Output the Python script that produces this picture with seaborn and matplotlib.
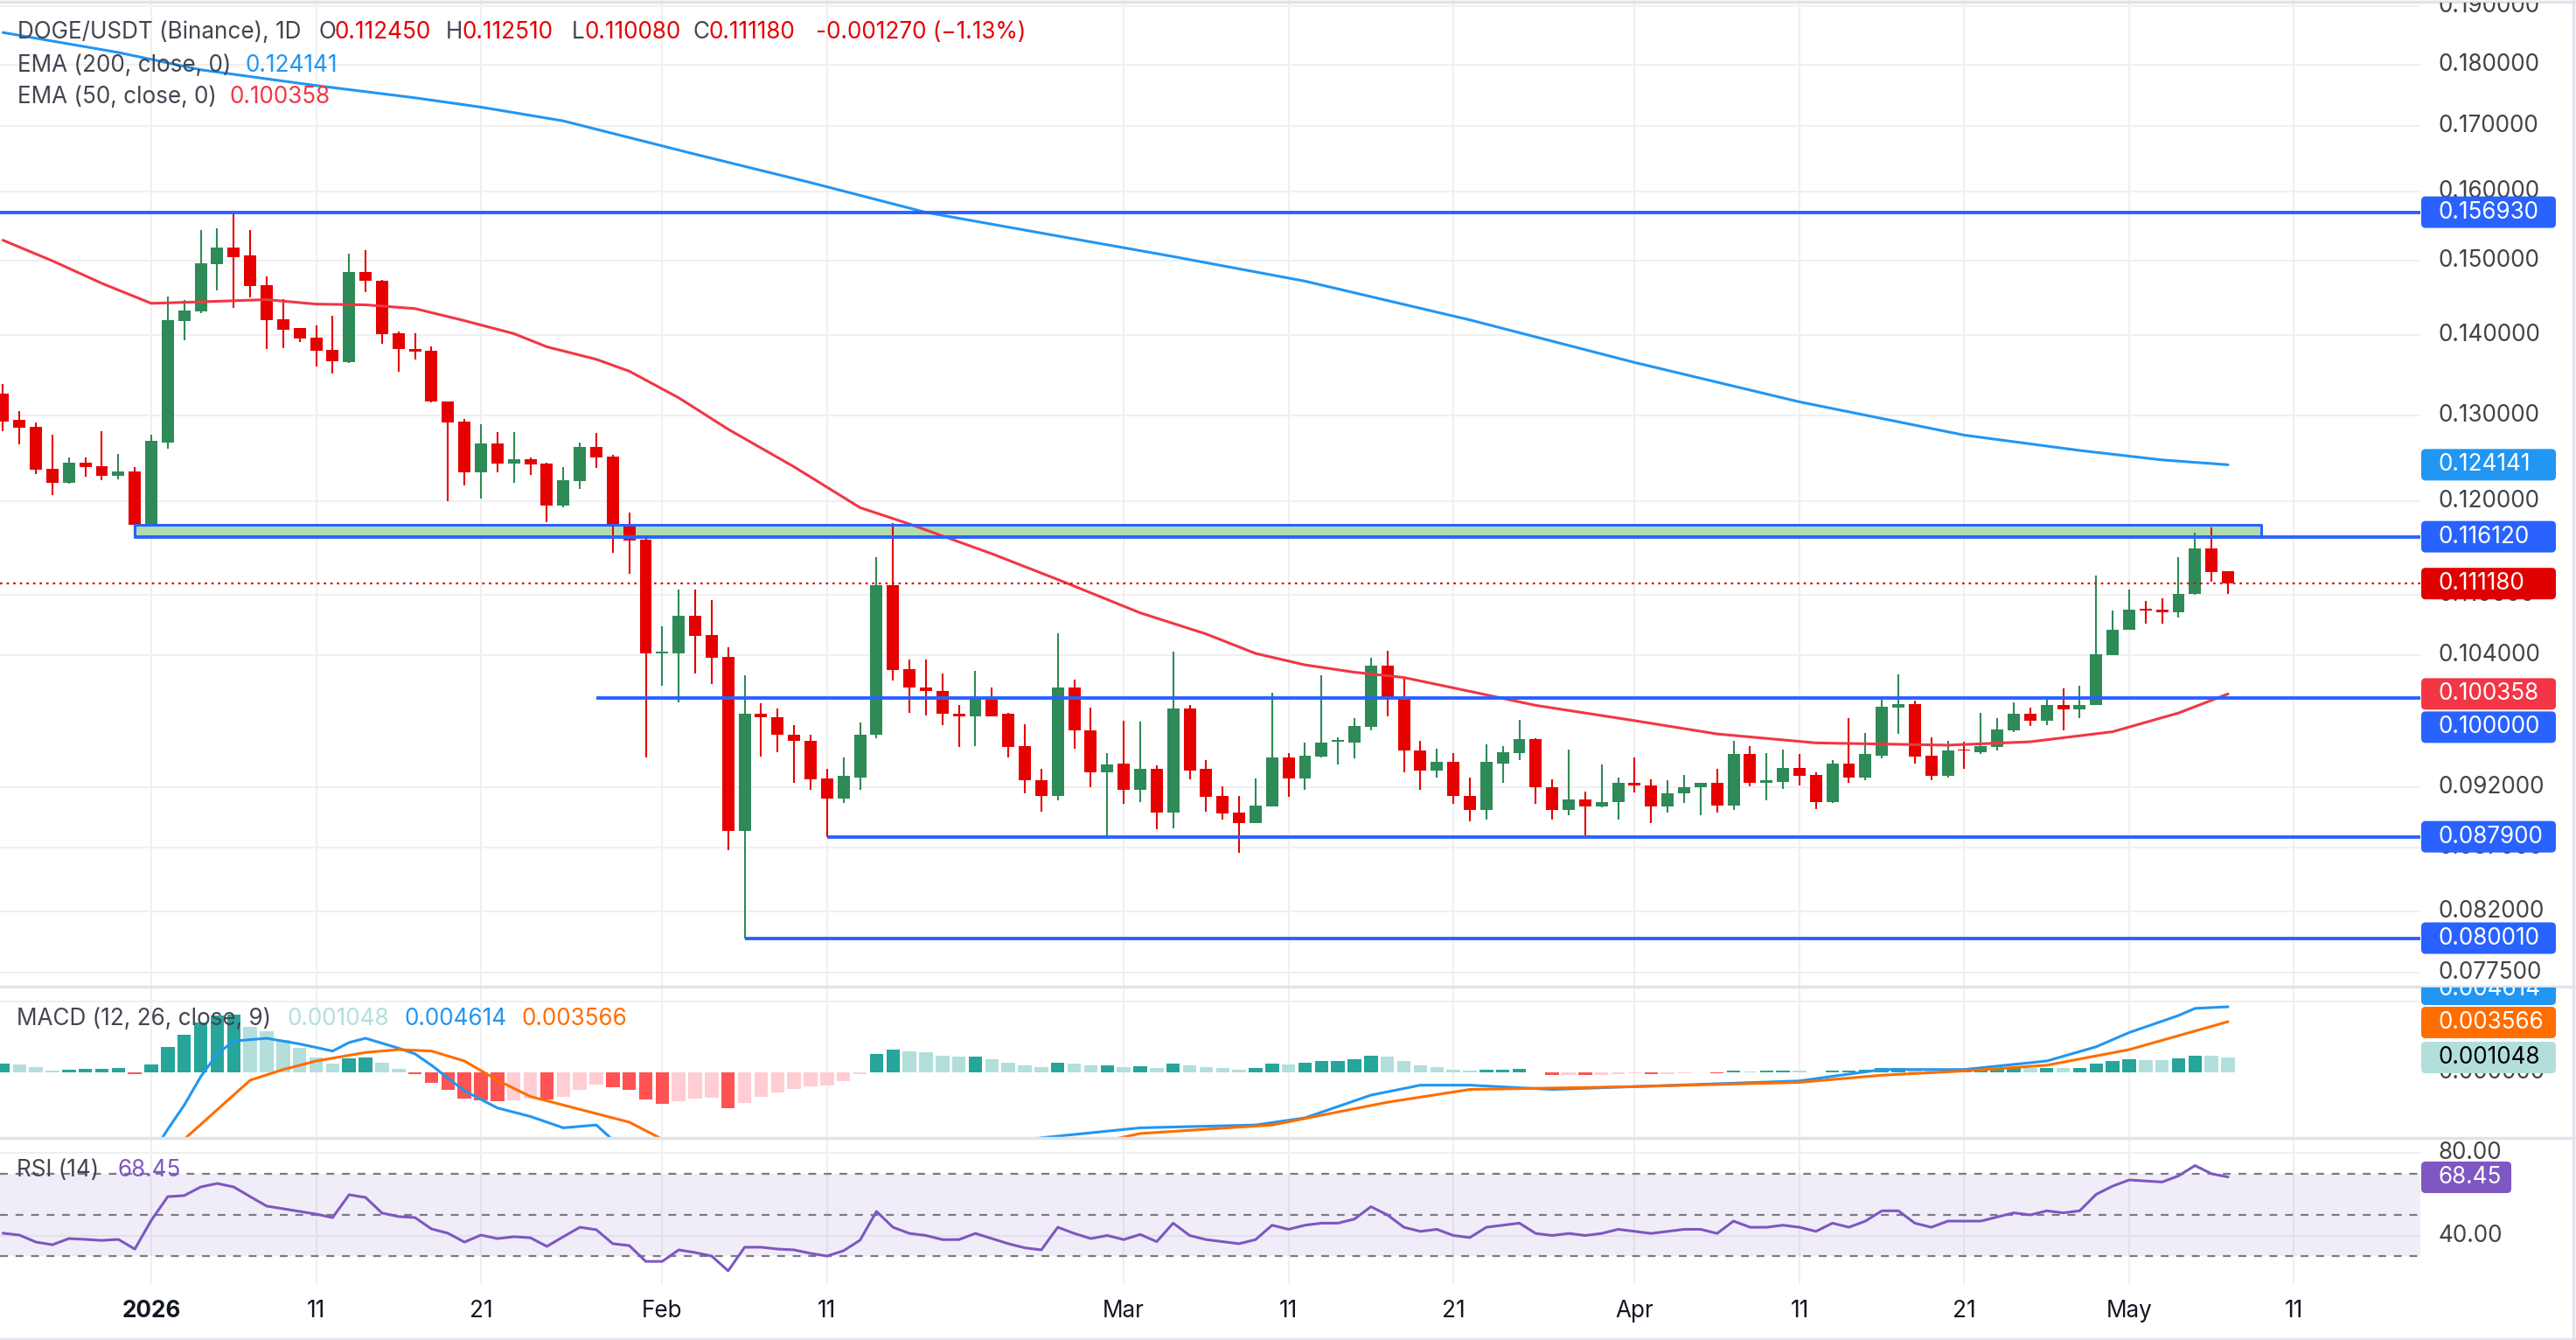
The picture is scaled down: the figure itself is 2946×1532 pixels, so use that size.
import numpy as np
import pandas as pd
import matplotlib
matplotlib.use("Agg")
import matplotlib.pyplot as plt
import seaborn as sns
from matplotlib.patches import FancyBboxPatch
from matplotlib.transforms import IdentityTransform, Bbox
from matplotlib.ticker import NullLocator

# ---------------- data ----------------
first_date = "2025-12-23"
open_ = [.1326, .1294, .1286, .1237, .1221, .1244, .1240, .1229, .1234,
         .1174, .1267, .1419, .1431, .1496, .1519, .1507, .1466, .1421, .1409, .1397,
         .1381, .1366, .1484, .1473, .1402, .1382, .1380, .1317, .1292, .1233,
         .1266, .1243, .1248, .1243, .1195, .1223, .1262, .1251, .1173, .1158,
         .1042, .1042, .1079, .1060, .1039, .0884, .0985, .0982, .0966, .0961,
         .0928, .0911, .0929, .0966, .1110, .1027, .1010, .1006, .0985, .0983,
         .1001, .0985, .0956, .0926, .0913, .1010, .0970, .0933, .0941, .0918,
         .0936, .0899, .0990, .0936, .0913, .0899, .0890, .0904, .0946, .0928,
         .0947, .0960, .0959, .0973, .1030, .1001, .0952, .0935, .0942, .0913,
         .0901, .0941, .0950, .0962, .0920, .0901, .0910, .0904, .0908, .0924,
         .0922, .0904, .0915, .0920, .0924, .0905, .0949, .0924, .0925, .0937,
         .0931, .0908, .0941, .0929, .0948, .0991, .0994, .0948, .0930, .0953,
         .0951, .0955, .0970, .0985, .0979, .0993, .0989, .0993, .1040, .1065,
         .1086, .1085, .1083, .1101, .1149, .11245]
high = [.1338, .1305, .1291, .1276, .1250, .1250, .1281, .1254, .1239,
        .1276, .1451, .1447, .1544, .1546, .1569, .1543, .1479, .1448, .1409, .1413,
        .1425, .1510, .1515, .1474, .1405, .1402, .1385, .1317, .1295, .1289,
        .1280, .1280, .1250, .1244, .1239, .1267, .1279, .1253, .1188, .1160,
        .1069, .1106, .1106, .1095, .1048, .1021, .0995, .0990, .0975, .0966,
        .0936, .0946, .0977, .1139, .1176, .1036, .1036, .1023, .0993, .1025,
        .1010, .0986, .0976, .0936, .1062, .1017, .0991, .0950, .0979, .0978,
        .0939, .1044, .0993, .0944, .0921, .0913, .0928, .1005, .0950, .0959,
        .1021, .0964, .0981, .1038, .1045, .1019, .0961, .0954, .0950, .0929,
        .0958, .0956, .0980, .0963, .0927, .0953, .0917, .0940, .0929, .0946,
        .0927, .0926, .0931, .0924, .0936, .0961, .0956, .0950, .0953, .0949,
        .0933, .0944, .0981, .0968, .0998, .1022, .0997, .0964, .0961, .0960,
        .0986, .0981, .0996, .0991, .0999, .1009, .1011, .1120, .1084, .1106,
        .1094, .1097, .1139, .1166, .1171, .11251]
low = [.1281, .1265, .1231, .1207, .1220, .1228, .1224, .1225, .1162,
       .1174, .1260, .1394, .1429, .1460, .1436, .1450, .1382, .1383, .1391, .1360,
       .1351, .1364, .1457, .1389, .1353, .1369, .1315, .1200, .1218, .1203,
       .1233, .1221, .1230, .1177, .1193, .1214, .1238, .1144, .1122, .0946,
       .1011, .0996, .1023, .1013, .0868, .0800, .0947, .0951, .0924, .0918,
       .0879, .0907, .0918, .0963, .1016, .0986, .0984, .0975, .0955, .0956,
       .0983, .0946, .0915, .0900, .0909, .0954, .0920, .0877, .0906, .0908,
       .0885, .0886, .0927, .0900, .0893, .0866, .0890, .0904, .0912, .0918,
       .0946, .0940, .0945, .0970, .0983, .0933, .0918, .0929, .0906, .0892,
       .0893, .0924, .0944, .0906, .0893, .0897, .0880, .0903, .0893, .0916,
       .0890, .0899, .0907, .0897, .0899, .0901, .0921, .0909, .0919, .0922,
       .0902, .0907, .0924, .0926, .0945, .0967, .0941, .0926, .0929, .0936,
       .0949, .0952, .0969, .0974, .0975, .0970, .0981, .0993, .1040, .1065,
       .1071, .1071, .1077, .1100, .1114, .11008]
close = [.1292, .1285, .1236, .1221, .1244, .1239, .1229, .1234, .1174,
         .1269, .1420, .1433, .1497, .1519, .1505, .1465, .1420, .1407, .1396, .1380,
         .1367, .1484, .1472, .1401, .1382, .1379, .1317, .1291, .1233, .1266,
         .1243, .1248, .1242, .1195, .1224, .1262, .1250, .1172, .1157, .1042,
         .1044, .1079, .1059, .1038, .0884, .0985, .0982, .0966, .0961, .0927,
         .0911, .0930, .0966, .1110, .1026, .1010, .1006, .0985, .0983, .1001,
         .0983, .0955, .0926, .0913, .1010, .0970, .0933, .0940, .0918, .0936,
         .0899, .0990, .0935, .0912, .0898, .0890, .0905, .0946, .0928, .0948,
         .0959, .0961, .0974, .1030, .1001, .0952, .0935, .0942, .0913, .0901,
         .0942, .0951, .0962, .0920, .0901, .0910, .0904, .0908, .0924, .0922,
         .0904, .0915, .0920, .0924, .0905, .0949, .0924, .0926, .0937, .0930,
         .0908, .0941, .0929, .0949, .0992, .0994, .0947, .0930, .0952, .0952,
         .0956, .0971, .0985, .0979, .0993, .0989, .0993, .1041, .1065, .1085,
         .1084, .1083, .1101, .1149, .1124, .11118]

ema200_dates = ["2025-12-23", "2025-12-30", "2026-01-04", "2026-01-08", "2026-01-11", "2026-01-14",
                "2026-01-17", "2026-01-21", "2026-01-26", "2026-02-03", "2026-02-10", "2026-02-17",
                "2026-02-25", "2026-03-04", "2026-03-12", "2026-03-22", "2026-04-01", "2026-04-11",
                "2026-04-21", "2026-04-28", "2026-05-03", "2026-05-07"]
ema200_vals = [.1854, .1820, .1791, .1776, .1765, .1755, .1745, .1730, .1708, .1656, .1613, .1569,
               .1535, .1506, .1472, .1420, .1365, .1316, .1276, .1258, .1247, .124141]

ema50_dates = ["2025-12-23", "2025-12-26", "2025-12-29", "2026-01-01", "2026-01-04", "2026-01-08",
               "2026-01-11", "2026-01-14", "2026-01-17", "2026-01-20", "2026-01-23", "2026-01-25",
               "2026-01-28", "2026-01-30", "2026-02-02", "2026-02-05", "2026-02-09", "2026-02-13",
               "2026-02-16", "2026-02-21", "2026-02-25", "2026-03-02", "2026-03-06", "2026-03-09",
               "2026-03-12", "2026-03-15", "2026-03-18", "2026-03-22", "2026-03-26", "2026-04-01",
               "2026-04-06", "2026-04-12", "2026-04-16", "2026-04-20", "2026-04-25", "2026-04-30",
               "2026-05-04", "2026-05-07"]
ema50_vals = [.1529, .1500, .1469, .1442, .1444, .1447, .1441, .1440, .1435, .1419, .1402, .1385,
              .1369, .1354, .1321, .1283, .1239, .1193, .1175, .1143, .1116, .1082, .1061, .1042,
              .1031, .1024, .1019, .1006, .0993, .0979, .0967, .0959, .0958, .0957, .0960, .0969,
              .0986, .100358]

macd_hist = [.00062, .00057, .00037, .00010, .00016, .00025, .00026, .00031, -.00010,
             .00055, .00178, .00262, .00349, .00400, .00406, .00318, .00291, .00226, .00170, .00107,
             .00062, .00098, .00107, .00066, .00025, -.00014, -.00074, -.00123, -.00185, -.00197,
             -.00200, -.00195, -.00185, -.00190, -.00174, -.00123, -.00086, -.00107, -.00123, -.00189,
             -.00221, -.00200, -.00185, -.00178, -.00250, -.00215, -.00174, -.00144, -.00119, -.00098,
             -.00092, -.00062, -.00010, .00130, .00160, .00150, .00140, .00120, .00110, .00112,
             .00090, .00070, .00050, .00040, .00070, .00060, .00050, .00052, .00040, .00042,
             .00030, .00060, .00050, .00040, .00030, .00020, .00030, .00060, .00058, .00070,
             .00080, .00082, .00090, .00120, .00110, .00080, .00050, .00040, .00020, .00010,
             .00020, .00021, .00022, .00000, -.00020, -.00019, -.00021, -.00018, -.00010, -.00009,
             -.00015, -.00010, -.00008, -.00001, -.00005, .00010, .00009, .00011, .00012, .00011,
             .00000, .00010, .00011, .00020, .00030, .00031, .00020, .00010, .00012, .00013,
             .00020, .00022, .00030, .00029, .00031, .00030, .00031, .00060, .00080, .00090,
             .00089, .00088, .00100, .00120, .00115, .001048]

macd_dates = ["2025-12-23", "2025-12-27", "2025-12-31", "2026-01-01", "2026-01-02", "2026-01-03",
              "2026-01-04", "2026-01-05", "2026-01-06", "2026-01-08", "2026-01-10", "2026-01-12",
              "2026-01-13", "2026-01-14", "2026-01-16", "2026-01-17", "2026-01-18", "2026-01-19",
              "2026-01-20", "2026-01-21", "2026-01-22", "2026-01-24", "2026-01-26", "2026-01-28",
              "2026-01-30", "2026-01-31", "2026-02-08", "2026-02-20", "2026-02-24", "2026-03-02",
              "2026-03-09", "2026-03-12", "2026-03-16", "2026-03-19", "2026-03-22", "2026-03-27",
              "2026-04-01", "2026-04-11", "2026-04-16", "2026-04-21", "2026-04-26", "2026-04-29",
              "2026-05-01", "2026-05-04", "2026-05-05", "2026-05-07"]
macd_line = [-.0068, -.0067, -.0066, -.0058, -.0040, -.0023, -.0003, .0013, .0022, .0024,
             .0020, .0015, .0021, .0024, .0017, .0013, .0005, -.0004, -.0013, -.0019,
             -.0025, -.0031, -.0039, -.0037, -.0058, -.0062, -.0066, -.0056, -.0046, -.0039,
             -.0037, -.0032, -.0016, -.0009, -.0009, -.0012, -.0010, -.0006, .0002, .0002,
             .0008, .0018, .0028, .0040, .0045, .004614]

signal_dates = ["2025-12-23", "2025-12-31", "2026-01-03", "2026-01-07", "2026-01-09", "2026-01-11",
                "2026-01-14", "2026-01-16", "2026-01-18", "2026-01-20", "2026-01-22", "2026-01-24",
                "2026-01-26", "2026-01-28", "2026-01-30", "2026-02-01", "2026-02-06", "2026-02-15",
                "2026-02-22", "2026-02-28", "2026-03-02", "2026-03-10", "2026-03-17", "2026-03-22",
                "2026-04-01", "2026-04-11", "2026-04-16", "2026-04-21", "2026-04-26", "2026-05-01",
                "2026-05-07"]
signal_line = [-.0072, -.0070, -.0047, -.00055, .0002, .0008, .0014, .0016, .0015, .0008,
               -.00055, -.0017, -.0023, -.0029, -.0035, -.0047, -.0055, -.0058, -.0052, -.0048,
               -.0043, -.0037, -.0021, -.0012, -.0010, -.0007, -.0002, .0001, .0005, .0016,
               .003566]

rsi = [41.1, 40.2, 36.8, 35.5, 38.5, 38.1, 37.6, 38.1, 33.4,
       47.4, 58.9, 59.4, 63.6, 65.3, 63.6, 58.9, 54.3, 53.0, 51.7, 50.4,
       48.7, 59.8, 58.5, 50.9, 49.2, 48.7, 43.2, 41.1, 36.8, 40.2,
       38.5, 39.4, 38.9, 34.7, 39.4, 44.0, 42.8, 36.0, 35.1, 27.4,
       27.4, 33.0, 31.7, 30.0, 22.8, 34.3, 34.3, 33.4, 33.0, 31.3,
       30.0, 32.6, 37.7, 51.7, 44.0, 41.0, 40.0, 38.0, 38.0, 41.0,
       38.5, 36.0, 34.0, 33.0, 44.0, 41.0, 38.5, 40.0, 38.0, 40.5,
       37.0, 46.0, 40.0, 38.0, 37.0, 36.0, 38.0, 45.0, 43.0, 45.0,
       46.0, 46.0, 48.0, 54.0, 50.0, 44.0, 42.0, 43.0, 40.0, 39.0,
       44.0, 45.0, 46.0, 41.0, 40.0, 41.0, 40.0, 41.0, 43.0, 42.0,
       41.0, 42.0, 43.0, 43.0, 41.0, 47.0, 44.0, 44.0, 45.0, 44.0,
       42.0, 46.0, 44.0, 47.0, 52.0, 52.0, 46.0, 44.0, 47.0, 47.0,
       47.0, 49.0, 51.0, 50.0, 52.0, 51.0, 52.0, 60.0, 64.0, 67.0,
       66.5, 66.0, 69.0, 74.0, 70.0, 68.45]

level_vals = [0.15693, 0.11612, 0.10000, 0.08790, 0.08001]
level_start = ["2025-12-20", "2025-12-31", "2026-01-28", "2026-02-11", "2026-02-06"]
zone_lo, zone_hi = 0.11612, 0.11741
zone_start, zone_end = "2025-12-31", "2026-05-09"

price_ticks = [0.19, 0.18, 0.17, 0.16, 0.15, 0.14, 0.13, 0.12, 0.11, 0.104, 0.092, 0.087, 0.082, 0.0775]
date_ticks = ["2026-01-01", "2026-01-11", "2026-01-21", "2026-02-01", "2026-02-11", "2026-03-01",
              "2026-03-11", "2026-03-21", "2026-04-01", "2026-04-11", "2026-04-21", "2026-05-01",
              "2026-05-11"]
date_labels = ["2026", "11", "21", "Feb", "11", "Mar", "11", "21", "Apr", "11", "21", "May", "11"]

# ---------------- helpers ----------------
W, H = 2946, 1532
ORIGIN = pd.Timestamp("2026-01-01")


def days(ds):
    return np.asarray((pd.to_datetime(ds) - ORIGIN).days, dtype=float)


UP, DOWN = "#2E8A57", "#E60000"
BLUE_LVL = "#2962FF"
GRID = "#F0F0F0"
TXT = "#434651"
FS = 18.8

sns.set_theme(style="white")
plt.rcParams["font.family"] = ["Inter", "DejaVu Sans"]
plt.rcParams["axes.unicode_minus"] = False

fig = plt.figure(figsize=(W / 100, H / 100), dpi=100)
fig.patch.set_facecolor("white")
PW = 2768


def axes_px(top, bottom):
    return fig.add_axes([0, 1 - bottom / H, PW / W, (bottom - top) / H])


ax = axes_px(0, 1127)
axm = axes_px(1128, 1300)
axr = axes_px(1302, 1468)

n = len(close)
x = np.arange(n) + days(first_date)
xlim = (-9.18, 137.67)
tick_x = days(date_ticks)

for a in (ax, axm, axr):
    a.set_xlim(*xlim)
    a.set_facecolor("white")
    for s in a.spines.values():
        s.set_visible(False)
    a.tick_params(length=0)
    a.set_xticks([])
    a.set_yticks([])
    for tx in tick_x:
        a.axvline(tx, color=GRID, lw=1.5, zorder=0)

# ---------------- main price pane ----------------
ax.set_yscale("log")
ax.set_ylim(0.07655, 0.19108)
ax.yaxis.set_minor_locator(NullLocator())
ax.yaxis.set_major_locator(NullLocator())
for v in price_ticks:
    ax.axhline(v, color=GRID, lw=1.5, zorder=0)

o = np.array(open_); h = np.array(high); l = np.array(low); c = np.array(close)
cols = np.where(c >= o, UP, DOWN)
ax.vlines(x, l, h, colors=cols, lw=1.5, zorder=3)
bot = np.minimum(o, c)
hgt = np.maximum(np.abs(c - o), bot * 0.0015)
ax.bar(x, hgt, bottom=bot, width=0.74, color=cols, linewidth=0, zorder=4)

sns.lineplot(x=days(ema200_dates), y=ema200_vals, ax=ax, color="#2196F3", lw=2.2, sort=False, zorder=5)
sns.lineplot(x=days(ema50_dates), y=ema50_vals, ax=ax, color="#F23645", lw=2.2, sort=False, zorder=5)

zs, ze = days([zone_start, zone_end])
ax.fill_between([zs, ze], zone_lo, zone_hi, color="#ACDCAC", alpha=0.95, zorder=2, lw=0)
ax.plot([zs, ze, ze], [zone_hi, zone_hi, zone_lo], color=BLUE_LVL, lw=2.2, zorder=6)
ax.plot([zs, zs], [zone_lo, zone_hi], color=BLUE_LVL, lw=2.2, zorder=6)
for v, s in zip(level_vals, level_start):
    ax.plot([days([s])[0], xlim[1]], [v, v], color=BLUE_LVL, lw=2.8, zorder=6, solid_capstyle="butt")
ax.axhline(close[-1], color="#E00000", lw=1.6, ls=(0, (1.2, 2.2)), zorder=6)

# ---------------- MACD pane ----------------
axm.set_ylim(-0.00455, 0.00603)
axm.axhline(0.005, color=GRID, lw=1.5, zorder=0)
hist = np.array(macd_hist)
prev = np.concatenate([[hist[0]], hist[:-1]])
hcol = np.where(hist >= 0, np.where(hist >= prev, "#26A69A", "#B2DFDB"),
                np.where(hist < prev, "#FF5252", "#FFCDD2"))
axm.bar(x, hist, width=0.82, color=hcol, linewidth=0, zorder=2)
sns.lineplot(x=days(macd_dates), y=macd_line, ax=axm, color="#2196F3", lw=2.2, sort=False, zorder=4)
sns.lineplot(x=days(signal_dates), y=signal_line, ax=axm, color="#FF6D00", lw=2.2, sort=False, zorder=4)

# ---------------- RSI pane ----------------
axr.set_ylim(16.4, 87.0)
for v in (80, 40):
    axr.axhline(v, color=GRID, lw=1.5, zorder=0)
axr.axhspan(30, 70, color="#7E57C2", alpha=0.10, lw=0, zorder=1)
for v in (70, 50, 30):
    axr.axhline(v, color="#787B86", lw=1.6, ls=(0, (4, 4)), zorder=2)
sns.lineplot(x=x, y=rsi, ax=axr, color="#7E57C2", lw=2.2, sort=False, zorder=4)

for a in (ax, axm, axr):
    leg = a.get_legend()
    if leg:
        leg.remove()
    a.set_xlabel("")
    a.set_ylabel("")

# ---------------- overlay texts (pixel coordinates) ----------------
ID = IdentityTransform()


def ftext(px, py, s, **kw):
    kw.setdefault("fontsize", FS)
    kw.setdefault("va", "center")
    return fig.text(px, H - py, s, transform=ID, **kw)


def ypix(a, v):
    return H - a.transData.transform((0, v))[1]


ftext(20, 37, "DOGE/USDT (Binance), 1D", color=TXT)
for px, s, col in [(365, "O", TXT), (383, "0.112450", DOWN), (510, "H", TXT), (528, "0.112510", DOWN),
                   (654, "L", TXT), (668, "0.110080", DOWN), (793, "C", TXT), (811, "0.111180", DOWN),
                   (933, "-0.001270 (\u22121.13%)", DOWN)]:
    ftext(px, 37, s, color=col)
ftext(20, 75, "EMA (200, close, 0)", color=TXT)
ftext(281, 75, "0.124141", color="#2196F3")
ftext(20, 111, "EMA (50, close, 0)", color=TXT)
ftext(263, 111, "0.100358", color="#F23645")

ftext(19, 1165, "MACD (12, 26, close, 9)", color=TXT)
ftext(328, 1165, "0.001048", color="#B2DFDB")
ftext(462, 1165, "0.004614", color="#2196F3")
ftext(596, 1165, "0.003566", color="#FF6D00")

ftext(19, 1338, "RSI (14)", color=TXT)
ftext(134, 1338, "68.45", color="#7E57C2")

TX0 = 2788
for v in price_ticks:
    t = ftext(TX0, ypix(ax, v), f"{v:.6f}", color="#434343", zorder=5)
    t.set_clip_box(Bbox.from_extents(0, H - 1126, W, H - 3))
ftext(TX0, ypix(axm, 0.0), "0.000000", color="#434343", zorder=5)
ftext(TX0, ypix(axr, 80), "80.00", color="#434343", zorder=5)
ftext(TX0, ypix(axr, 40), "40.00", color="#434343", zorder=5)


def badge(yc, text, fc, tc="white", w=154, clip=None):
    p = FancyBboxPatch((2769, H - yc - 18), w, 36, boxstyle="round,pad=0,rounding_size=5",
                       transform=ID, fc=fc, ec="none", zorder=8)
    fig.add_artist(p)
    t = ftext(TX0, yc, text, color=tc, zorder=9)
    if clip is not None:
        bb = Bbox.from_extents(0, H - clip[1], W, H - clip[0])
        p.set_clip_box(bb); p.set_clip_on(True)
        t.set_clip_box(bb); t.set_clip_on(True)


badge(ypix(ax, 0.15693), "0.156930", BLUE_LVL)
badge(ypix(ax, 0.124141), "0.124141", "#2196F3")
badge(ypix(ax, 0.11612), "0.116120", BLUE_LVL)
badge(ypix(ax, 0.11118), "0.111180", "#E00000")
badge(ypix(ax, 0.100358), "0.100358", "#F23645")
badge(ypix(ax, 0.100358) + 38, "0.100000", BLUE_LVL)
badge(ypix(ax, 0.0879), "0.087900", BLUE_LVL)
badge(ypix(ax, 0.08001), "0.080010", BLUE_LVL)
badge(1131, "0.004614", "#2196F3", clip=(1129, 1160))
badge(1169, "0.003566", "#FF6D00")
badge(1209, "0.001048", "#B2DFDB", tc="black")
badge(1346, "68.45", "#7E57C2", w=103)

for tx, lab in zip(tick_x, date_labels):
    xp = axr.transData.transform((tx, 0))[0]
    ftext(xp, 1499, lab, color="#131722", ha="center",
          fontweight="bold" if lab == "2026" else "normal")

for yy in (1127.5, 1301):
    fig.add_artist(plt.Line2D([0, W], [H - yy, H - yy], transform=ID, color="#E0E3EB", lw=2.5))
fig.add_artist(plt.Line2D([0, W], [H - 1.5, H - 1.5], transform=ID, color="#E0E3EB", lw=2.5))
fig.add_artist(plt.Line2D([0, W], [1.5, 1.5], transform=ID, color="#E0E3EB", lw=2.5))
fig.add_artist(plt.Line2D([W - 3, W - 3], [0, H], transform=ID, color="#E0E3EB", lw=2.5))

fig.savefig("out.png", dpi=100, facecolor="white")
